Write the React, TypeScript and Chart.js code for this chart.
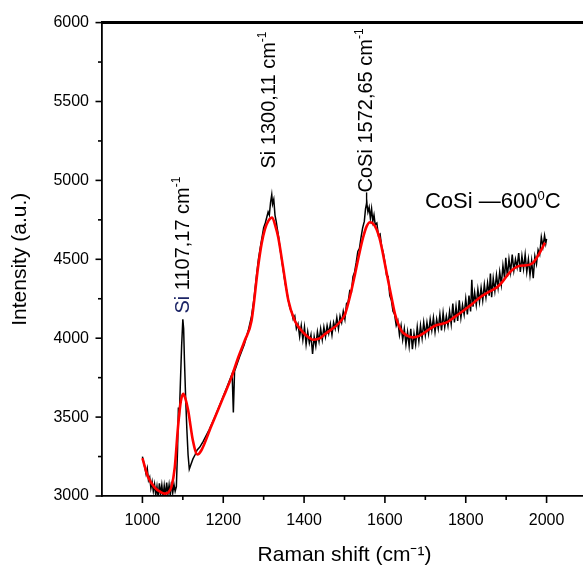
import React, { useEffect, useRef } from 'react';
import { Chart, registerables } from 'chart.js';
Chart.register(...registerables);

const FONT = "'Liberation Sans', Arial, sans-serif";

// Raman spectrum (measured, noisy)
const BLACK_X = [1000,1003,1006,1009,1012,1015,1018,1021,1024,1027,1030,1033,1036,1039,1042,1045,1048,1051,1054,1057,1060,1063,1066,1069,1072,1075,1078,1081,1084,1087,1089,1091,1094,1097,1100,1102,1104,1107,1110,1113,1116,1120,1125,1130,1135,1142,1150,1165,1180,1195,1210,1222,1225,1228,1240,1252,1262,1270,1276,1282,1287,1292,1296,1300,1304,1308,1311,1314,1317,1320,1322,1325,1328,1331,1334,1337,1341,1345,1349,1353,1357,1361,1365,1369,1373,1377,1381,1385,1389,1393,1397,1401,1405,1409,1413,1417,1421,1425,1429,1433,1437,1441,1445,1449,1453,1457,1461,1465,1469,1473,1477,1481,1485,1489,1493,1497,1501,1505,1509,1513,1517,1521,1525,1529,1533,1537,1541,1545,1549,1552,1555,1558,1561,1564,1567,1570,1573,1576,1580,1584,1588,1592,1596,1600,1604,1608,1612,1616,1620,1624,1628,1632,1636,1640,1644,1648,1652,1656,1660,1664,1668,1672,1676,1680,1684,1688,1692,1696,1700,1704,1708,1712,1716,1720,1724,1728,1732,1736,1740,1744,1748,1752,1756,1760,1764,1768,1772,1776,1780,1784,1788,1792,1796,1800,1804,1808,1812,1815,1818,1822,1826,1830,1834,1838,1842,1846,1850,1854,1858,1861,1864,1868,1872,1876,1880,1884,1888,1892,1896,1899,1903,1907,1911,1915,1919,1923,1927,1931,1935,1939,1943,1947,1951,1955,1959,1963,1967,1971,1975,1979,1983,1987,1991,1995,1998,2000];
const BLACK_Y = [3250,3215,3180,3140,3175,3100,3120,3050,3090,3030,3075,3005,3060,2990,3080,3010,3070,2995,3065,3000,3085,3010,3070,3000,3090,3020,3075,3030,3060,3300,3560,3480,3720,3950,4120,4060,3860,3620,3420,3260,3170,3200,3235,3260,3290,3310,3345,3420,3505,3600,3695,3775,3530,3790,3880,3960,4050,4140,4250,4390,4500,4580,4640,4700,4730,4770,4800,4780,4860,4910,4850,4880,4780,4740,4690,4640,4560,4490,4420,4350,4300,4240,4190,4170,4120,4140,4060,4090,4010,4080,3990,4070,3960,4040,3970,4020,3900,4010,3950,4040,3980,4060,3990,4070,4010,4080,4030,4090,4020,4100,4060,4130,4060,4140,4100,4170,4120,4220,4230,4300,4290,4390,4420,4480,4550,4570,4640,4700,4740,4820,4860,4800,4830,4760,4820,4740,4780,4720,4730,4650,4660,4580,4540,4480,4400,4390,4270,4240,4170,4150,4080,4110,4020,4080,3990,4060,3960,4040,3950,4060,3930,4030,3960,4070,3980,4080,4000,4100,4020,4100,4030,4120,4050,4130,4040,4120,4060,4150,4050,4160,4070,4140,4080,4170,4090,4220,4100,4200,4110,4240,4130,4210,4150,4250,4150,4270,4170,4370,4200,4290,4210,4310,4230,4320,4240,4340,4260,4350,4270,4410,4260,4380,4300,4400,4320,4420,4340,4460,4380,4510,4390,4500,4420,4530,4430,4500,4450,4540,4420,4520,4440,4530,4420,4500,4400,4490,4380,4520,4470,4560,4530,4640,4580,4650,4600,4630];

// Smoothed fit (red)
const FIT_X = [1000,1014,1030,1045,1055,1065,1072,1080,1088,1095,1101,1106,1113,1125,1136,1146,1170,1200,1220,1237,1253,1270,1286,1295,1303,1312,1321,1329,1336,1348,1361,1377,1390,1402,1423,1440,1451,1470,1484,1501,1515,1526,1537,1546,1555,1563,1575,1585,1592,1600,1608,1617,1625,1641,1656,1670,1685,1699,1724,1740,1753,1770,1794,1815,1835,1855,1877,1890,1902,1914,1934,1951,1965,1976,1986,1996];
const FIT_Y = [3240,3120,3055,3025,3015,3025,3060,3180,3435,3600,3647,3620,3545,3350,3263,3290,3440,3625,3750,3878,3984,4111,4448,4600,4690,4745,4765,4710,4640,4450,4240,4110,4060,4025,3990,4000,4025,4060,4090,4150,4280,4406,4540,4638,4710,4735,4712,4650,4575,4470,4364,4250,4153,4047,4015,4005,4015,4037,4079,4090,4100,4130,4174,4215,4258,4290,4322,4355,4396,4430,4459,4462,4475,4511,4555,4606];

const X_LABELS = [1000, 1200, 1400, 1600, 1800, 2000];
const Y_LABELS = [3000, 3500, 4000, 4500, 5000, 5500, 6000];

// Peak annotations
const PEAK_NAMES = ['Si', 'Si', '\u2013CoSi'];
const PEAK_VALUES = ['1107,17', '1300,11', '1572,65'];
const PEAK_X = [1101, 1315, 1555];
const PEAK_Y = [4156, 5075, 4853];
const PEAK_NAME_COLORS = ['#1c2466', '#000', '#000'];

const SAMPLE_LABEL = 'CoSi \u2014600';
const SAMPLE_X = 1699;
const SAMPLE_Y = 4862;

const annotPlugin = {
  id: 'annot',
  afterDraw(chart: any) {
    const { ctx, chartArea, scales } = chart;
    const xs = scales.x, ys = scales.y;
    const { left, right, top, bottom } = chartArea;
    ctx.save();
    ctx.strokeStyle = '#000';
    ctx.lineCap = 'butt';
    // tick marks (major/minor)
    ctx.lineWidth = 1.6;
    ys.ticks.forEach((t: any) => {
      const py = ys.getPixelForValue(t.value);
      const len = Y_LABELS.includes(t.value) ? 6.5 : 4;
      ctx.beginPath(); ctx.moveTo(left - len, py); ctx.lineTo(left, py); ctx.stroke();
    });
    xs.ticks.forEach((t: any) => {
      if (t.value <= xs.min || t.value >= xs.max) return;
      const px = xs.getPixelForValue(t.value);
      const len = X_LABELS.includes(t.value) ? 7 : 4;
      ctx.beginPath(); ctx.moveTo(px, bottom); ctx.lineTo(px, bottom + len); ctx.stroke();
    });
    // top frame line
    ctx.lineWidth = 3;
    ctx.beginPath(); ctx.moveTo(left - 1, top); ctx.lineTo(right, top); ctx.stroke();

    // rotated peak labels
    const big = `20px ${FONT}`;
    const small = `12px ${FONT}`;
    for (let i = 0; i < PEAK_NAMES.length; i++) {
      const px = xs.getPixelForValue(PEAK_X[i]);
      const py = ys.getPixelForValue(PEAK_Y[i]);
      ctx.save();
      ctx.translate(px, py);
      ctx.rotate(-Math.PI / 2);
      ctx.textBaseline = 'middle';
      ctx.textAlign = 'left';
      let cx = 0;
      ctx.font = big;
      ctx.fillStyle = PEAK_NAME_COLORS[i];
      ctx.fillText(PEAK_NAMES[i], cx, 0);
      cx += ctx.measureText(PEAK_NAMES[i] + ' ').width;
      ctx.fillStyle = '#000';
      const rest = PEAK_VALUES[i] + ' cm';
      ctx.fillText(rest, cx, 0);
      cx += ctx.measureText(rest).width;
      ctx.font = small;
      ctx.fillText('-1', cx, -7);
      ctx.restore();
    }

    // sample label
    const sx = xs.getPixelForValue(SAMPLE_X);
    const sy = ys.getPixelForValue(SAMPLE_Y);
    ctx.fillStyle = '#000';
    ctx.textBaseline = 'middle';
    ctx.textAlign = 'left';
    ctx.font = `22px ${FONT}`;
    ctx.fillText(SAMPLE_LABEL, sx, sy);
    let w = ctx.measureText(SAMPLE_LABEL).width;
    ctx.font = `13px ${FONT}`;
    ctx.fillText('0', sx + w, sy - 6);
    w += ctx.measureText('0').width;
    ctx.font = `22px ${FONT}`;
    ctx.fillText('C', sx + w, sy);
    ctx.restore();
  },
};

export default function App() {
  const ref = useRef<HTMLCanvasElement | null>(null);
  useEffect(() => {
    if (!ref.current) return;
    Chart.defaults.font.family = FONT;
    Chart.defaults.color = '#000';
    const chart = new Chart(ref.current, {
      type: 'line',
      data: {
        datasets: [
          {
            label: 'fit',
            data: FIT_X.map((x, i) => ({ x, y: FIT_Y[i] })),
            borderColor: '#ff0000',
            borderWidth: 2.6,
            pointRadius: 0,
            cubicInterpolationMode: 'monotone',
            fill: false,
          },
          {
            label: 'spectrum',
            data: BLACK_X.map((x, i) => ({ x, y: BLACK_Y[i] })),
            borderColor: '#000',
            borderWidth: 1.5,
            pointRadius: 0,
            tension: 0,
            fill: false,
          },
        ],
      },
      options: {
        animation: false,
        responsive: false,
        events: [],
        layout: { padding: { top: 22, right: 3, bottom: 0, left: 0 } },
        plugins: { legend: { display: false }, tooltip: { enabled: false } },
        scales: {
          x: {
            type: 'linear',
            min: 900,
            max: 2100,
            grid: { display: false, drawTicks: false },
            border: { display: true, color: '#000', width: 1.8 },
            ticks: {
              stepSize: 100,
              autoSkip: false,
              maxRotation: 0,
              padding: 15,
              font: { size: 16, family: FONT },
              color: '#000',
              callback: (v: any) => (X_LABELS.includes(Number(v)) ? String(v) : ''),
            },
            title: {
              display: true,
              text: 'Raman shift (cm\u207B\u00B9)',
              font: { size: 21, family: FONT },
              color: '#000',
              padding: { top: 0, bottom: 3 },
            },
            afterFit: (s: any) => { s.height = 75; s.paddingRight = 0; s.paddingLeft = 0; },
          },
          y: {
            type: 'linear',
            min: 3000,
            max: 6000,
            grid: { display: false, drawTicks: false },
            border: { display: true, color: '#000', width: 1.8 },
            ticks: {
              stepSize: 250,
              autoSkip: false,
              padding: 13,
              font: { size: 16, family: FONT },
              color: '#000',
              callback: (v: any) => (Y_LABELS.includes(Number(v)) ? String(v) : ''),
            },
            title: {
              display: true,
              text: 'Intensity (a.u.)',
              font: { size: 21, family: FONT },
              color: '#000',
              padding: { top: 8, bottom: 0 },
            },
            afterFit: (s: any) => { s.width = 102; },
          },
        },
      },
      plugins: [annotPlugin],
    });
    return () => chart.destroy();
  }, []);
  return (
    <div style={{ position: 'fixed', left: 0, top: 0, width: 583, height: 571, overflow: 'hidden', background: '#fff' }}>
      <canvas ref={ref} width={590} height={571} style={{ display: 'block' }} />
    </div>
  );
}
